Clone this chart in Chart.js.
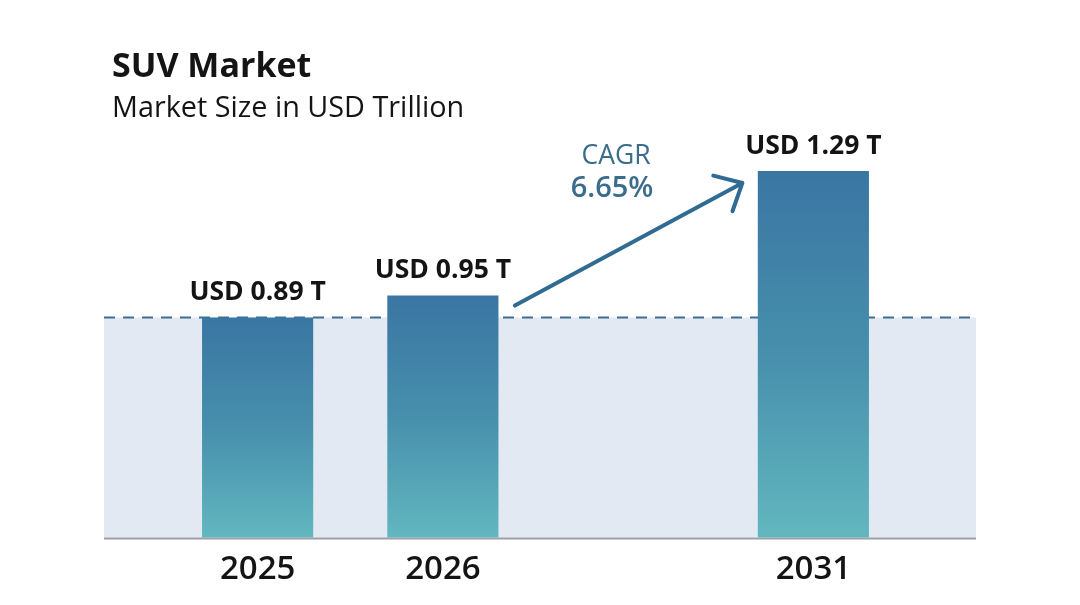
<!DOCTYPE html>
<html>
<head>
<meta charset="utf-8">
<script src="https://cdn.jsdelivr.net/npm/chart.js@4.4.1/dist/chart.umd.min.js"></script>
<style>
  html, body { margin: 0; padding: 0; background: #ffffff; }
  #wrap { width: 1080px; height: 605px; position: relative; }
</style>
</head>
<body>
<div id="wrap"><canvas id="suvChart"></canvas></div>
<script>
// chart data
const years = ["2025", "2026", "", "2031"];
const marketSize = [0.89, 0.95, null, 1.29];
const valueLabels = ["USD 0.89 T", "USD 0.95 T", "", "USD 1.29 T"];
const referenceValue = 0.89;
const cagrLabel = "CAGR";
const cagrValue = "6.65%";

const FONT = "'Open Sans', 'Noto Sans', sans-serif";

const barGradient = (context) => {
  const chart = context.chart;
  const yScale = chart.scales.y;
  const value = marketSize[context.dataIndex];
  if (!yScale || value == null) return "#3a76a2";
  const top = yScale.getPixelForValue(value);
  const bottom = yScale.getPixelForValue(yScale.min);
  if (!isFinite(top) || !isFinite(bottom) || top === bottom) return "#3a76a2";
  const g = chart.ctx.createLinearGradient(0, top, 0, bottom);
  g.addColorStop(0, "#3a76a2");
  g.addColorStop(0.5, "#478fac");
  g.addColorStop(1, "#62b7bf");
  return g;
};

// shaded band, dashed reference line and baseline behind the bars
const backdrop = {
  id: "backdrop",
  beforeDatasetsDraw(chart) {
    const { ctx, chartArea, scales } = chart;
    const left = chartArea.left - 61;
    const right = chartArea.right + 70;
    const refY = scales.y.getPixelForValue(referenceValue);
    const base = chartArea.bottom;
    ctx.save();
    ctx.fillStyle = "#e2e9f2";
    ctx.fillRect(left, refY, right - left, base - refY);
    ctx.strokeStyle = "#3f6f90";
    ctx.lineWidth = 2;
    ctx.setLineDash([11, 8]);
    ctx.beginPath();
    ctx.moveTo(left, refY);
    ctx.lineTo(right, refY);
    ctx.stroke();
    ctx.setLineDash([]);
    ctx.strokeStyle = "#9c9ea6";
    ctx.lineWidth = 2;
    ctx.beginPath();
    ctx.moveTo(left, base + 1);
    ctx.lineTo(right, base + 1);
    ctx.stroke();
    ctx.restore();
  },
};

// titles, value labels, CAGR arrow
const overlay = {
  id: "overlay",
  afterDraw(chart) {
    const { ctx, scales } = chart;
    const x = scales.x;
    const y = scales.y;
    ctx.save();
    ctx.fillStyle = "#141414";
    ctx.textAlign = "left";
    ctx.textBaseline = "alphabetic";
    ctx.font = `bold 34px ${FONT}`;
    ctx.fillText("SUV Market", 112, 77);
    ctx.font = `28.8px ${FONT}`;
    ctx.fillText("Market Size in USD Trillion", 112, 117);

    const meta = chart.getDatasetMeta(0);
    ctx.textAlign = "center";
    ctx.textBaseline = "middle";
    ctx.font = `bold 26.5px ${FONT}`;
    meta.data.forEach((bar, i) => {
      if (marketSize[i] == null) return;
      ctx.fillText(valueLabels[i], bar.x, bar.y - 25);
    });

    // arrow from 2026 bar towards 2031 bar
    const x0 = x.getPixelForValue(1) + 72;
    const y0 = y.getPixelForValue(marketSize[1]) + 10;
    const x1 = x.getPixelForValue(3) - 71;
    const y1 = y.getPixelForValue(marketSize[3]) + 12;
    ctx.strokeStyle = "#2f6b93";
    ctx.lineWidth = 4;
    ctx.lineCap = "round";
    ctx.lineJoin = "round";
    ctx.beginPath();
    ctx.moveTo(x0, y0);
    ctx.lineTo(x1, y1);
    const ang = Math.atan2(y0 - y1, x0 - x1);
    const len = 30;
    const spread = 0.74;
    ctx.moveTo(x1 + len * Math.cos(ang + spread), y1 + len * Math.sin(ang + spread));
    ctx.lineTo(x1, y1);
    ctx.lineTo(x1 + len * Math.cos(ang - spread), y1 + len * Math.sin(ang - spread));
    ctx.stroke();

    ctx.fillStyle = "#3a6c8b";
    ctx.textBaseline = "alphabetic";
    ctx.font = `26.5px ${FONT}`;
    ctx.fillText(cagrLabel, 616, 164);
    ctx.font = `600 29px ${FONT}`;
    ctx.fillText(cagrValue, 612, 197);
    ctx.restore();
  },
};

new Chart(document.getElementById("suvChart"), {
  type: "bar",
  data: {
    labels: years,
    datasets: [{
      data: marketSize,
      backgroundColor: barGradient,
      borderWidth: 0,
      categoryPercentage: 1,
      barPercentage: 0.6,
    }],
  },
  options: {
    responsive: true,
    maintainAspectRatio: false,
    animation: false,
    layout: { padding: { left: 165, right: 174, top: 94, bottom: 12 } },
    plugins: {
      legend: { display: false },
      tooltip: { enabled: false },
      title: { display: false },
    },
    scales: {
      x: {
        grid: { display: false },
        border: { display: false },
        ticks: {
          color: "#141414",
          padding: 4,
          font: { family: FONT, size: 33, weight: 600 },
        },
      },
      y: {
        display: false,
        min: 0.29,
        max: 1.5,
      },
    },
  },
  plugins: [backdrop, overlay],
});
</script>
</body>
</html>
